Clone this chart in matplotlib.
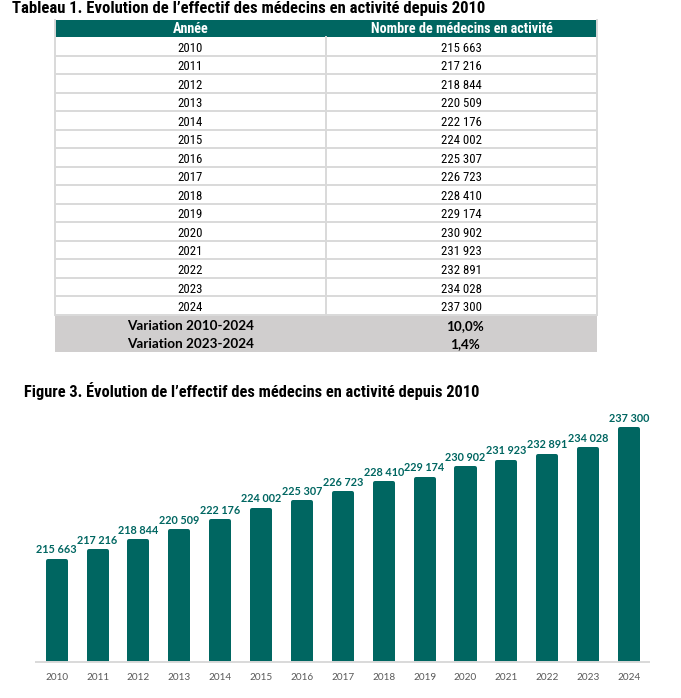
import matplotlib
matplotlib.use("Agg")
import matplotlib.pyplot as plt
from matplotlib.patches import Rectangle

years = [2010, 2011, 2012, 2013, 2014, 2015, 2016, 2017, 2018, 2019, 2020, 2021, 2022, 2023, 2024]
values = [215663, 217216, 218844, 220509, 222176, 224002, 225307, 226723, 228410, 229174, 230902, 231923, 232891, 234028, 237300]
variation_labels = ["Variation 2010-2024", "Variation 2023-2024"]
variation_values = ["10,0%", "1,4%"]
col_headers = ["Année", "Nombre de médecins en activité"]
table_title = "Tableau 1. Evolution de l’effectif des médecins en activité depuis 2010"
chart_title = "Figure 3. Évolution de l’effectif des médecins en activité depuis 2010"

TEAL = "#006661"
GRAY = "#D0CECE"
LINE = "#D9D9D9"
NARROW = ["Roboto Condensed", "DejaVu Sans"]


def fmt(v):
    return f"{v:,}".replace(",", " ")


W, H = 681, 698
fig = plt.figure(figsize=(W / 100, H / 100), dpi=100)

# ---------- Table (pixel coordinates) ----------
bg = fig.add_axes([0, 0, 1, 1])
bg.set_xlim(0, W)
bg.set_ylim(H, 0)
bg.axis("off")

x0, xm, x1 = 55, 326, 597
hdr_top, hdr_bot = 19.7, 37.0
row_h = 18.52

bg.text(12, 8, table_title, fontsize=12, fontweight="bold", family=NARROW,
        ha="left", va="center", color="black")

bg.add_patch(Rectangle((x0, hdr_top), x1 - x0, hdr_bot - hdr_top, color=TEAL, lw=0))
bg.text((x0 + xm) / 2, (hdr_top + hdr_bot) / 2 + 0.5, col_headers[0], color="white",
        fontsize=10.2, fontweight="bold", family=NARROW, ha="center", va="center")
bg.text((xm + x1) / 2, (hdr_top + hdr_bot) / 2 + 0.5, col_headers[1], color="white",
        fontsize=10.2, fontweight="bold", family=NARROW, ha="center", va="center")

for i, (yr, v) in enumerate(zip(years, values)):
    top = hdr_bot + i * row_h
    bot = top + row_h
    cy = (top + bot) / 2
    bg.plot([x0, x1], [bot, bot], color=LINE, lw=1.4, solid_capstyle="butt")
    bg.text((x0 + xm) / 2, cy + 2, str(yr), fontsize=9.2, family=NARROW,
            ha="center", va="center", color="black")
    bg.text((xm + x1) / 2, cy + 2, fmt(v), fontsize=9.2, family=NARROW,
            ha="center", va="center", color="black")

tab_bot = hdr_bot + len(years) * row_h
bg.plot([x0, x0], [hdr_top, tab_bot], color=LINE, lw=1.4)
bg.plot([x1, x1], [hdr_top, tab_bot], color=LINE, lw=1.4)
bg.plot([xm, xm], [hdr_bot, tab_bot], color=LINE, lw=1.4)

gray_top = tab_bot + 0.7
gray_h = 18.3
bg.add_patch(Rectangle((x0, gray_top), x1 - x0, gray_h * len(variation_labels), color=GRAY, lw=0))
for j, (lab, val) in enumerate(zip(variation_labels, variation_values)):
    cy = gray_top + gray_h * (j + 0.5) + 1.5
    bg.text((x0 + xm) / 2, cy, lab, fontsize=9.7, fontweight="bold", family="Lato",
            ha="center", va="center", color="black")
    bg.text((xm + x1) / 2 + 3, cy, val, fontsize=9.7, fontweight="bold", family="Lato",
            ha="center", va="center", color="black")

bg.text(24, 391, chart_title, fontsize=11.8, fontweight="bold", family=NARROW,
        ha="left", va="center", color="black")

# ---------- Bar chart ----------
ax_l, ax_r = 36, 649
ax_b, ax_t = 661.7, 415
ax = fig.add_axes([ax_l / W, (H - ax_b) / H, (ax_r - ax_l) / W, (ax_b - ax_t) / H])
ax.patch.set_alpha(0)
xs = list(range(len(years)))
lw_px = 4
ax.bar(xs, values, width=0.54 - lw_px / 40.88, color=TEAL, edgecolor=TEAL,
       linewidth=lw_px * 0.72, joinstyle="round", zorder=2)
ax.set_xlim(-0.506, 14.489)
ymin = 199000
ax.set_ylim(ymin, ymin + (ax_b - ax_t) / 6.068 * 1000)

for x, v in zip(xs, values):
    ax.annotate(fmt(v), (x, v), xytext=(0, 4), textcoords="offset points",
                ha="center", va="bottom", fontsize=7.8, fontweight="bold",
                family="Lato", color=TEAL)

for s in ["top", "right", "left"]:
    ax.spines[s].set_visible(False)
ax.spines["bottom"].set_color(LINE)
ax.spines["bottom"].set_linewidth(1.4)
ax.spines["bottom"].set_zorder(3)
ax.set_yticks([])
ax.set_xticks(xs)
ax.set_xticklabels([str(y) for y in years], fontsize=7.2, family="Lato", color="#595959")
ax.tick_params(axis="x", length=0, pad=8)

fig.savefig("out.png", dpi=100)
